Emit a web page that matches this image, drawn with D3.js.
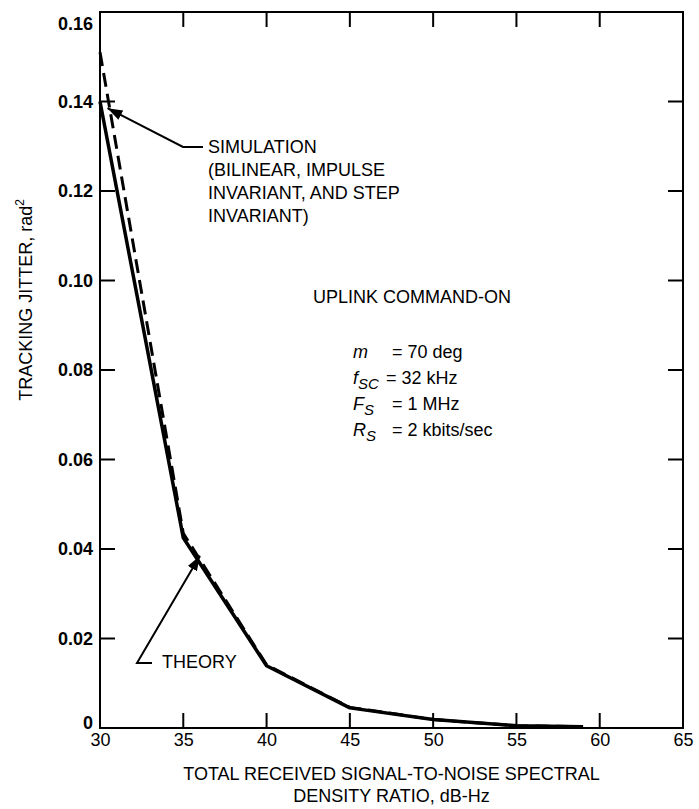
<!DOCTYPE html>
<html>
<head>
<meta charset="utf-8">
<script src="https://cdn.jsdelivr.net/npm/d3@7"></script>
<style>
  body { margin: 0; background: #fff; }
  svg { font-family: "Liberation Sans", Arial, Helvetica, sans-serif; }
</style>
</head>
<body>
<div id="chart"></div>
<script>
// values
const snrTheory = [30, 35, 40, 45, 50, 55, 59];
const jitterTheory = [0.140, 0.0425, 0.0139, 0.0045, 0.0019, 0.0005, 0.0003];
const snrSim = [30, 35, 40, 45, 50, 55, 59];
const jitterSim = [0.151, 0.0435, 0.0141, 0.0046, 0.0019, 0.0005, 0.0003];
const xTicks = [30, 35, 40, 45, 50, 55, 60, 65];
const yTicks = [0, 0.02, 0.04, 0.06, 0.08, 0.10, 0.12, 0.14, 0.16];
const simNote = ["SIMULATION", "(BILINEAR, IMPULSE", "INVARIANT, AND STEP", "INVARIANT)"];

const width = 699, height = 809;
const margin = { top: 12, right: 16, bottom: 81, left: 100 };

const svg = d3.select('#chart')
  .append('svg')
  .attr('width', width)
  .attr('height', height);

const x = d3.scaleLinear().domain([30, 65]).range([margin.left, width - margin.right]);
const y = d3.scaleLinear().domain([0, 0.16]).range([height - margin.bottom, margin.top]);

// frame
svg.append('rect')
  .attr('x', x(30)).attr('y', y(0.16))
  .attr('width', x(65) - x(30)).attr('height', y(0) - y(0.16))
  .attr('fill', 'none').attr('stroke', '#000').attr('stroke-width', 2);

const inner = xTicks.filter(d => d > 30 && d < 65);
const innerY = yTicks.filter(d => d > 0 && d < 0.16);

// bottom axis: labels + inward ticks
const xAxis = svg.append('g')
  .attr('transform', `translate(0,${y(0)})`)
  .call(d3.axisBottom(x).tickValues(xTicks).tickSize(0).tickPadding(5).tickFormat(d3.format('d')));
xAxis.select('.domain').remove();
xAxis.selectAll('text').attr('font-size', 18).attr('font-family', 'Liberation Sans, Arial, sans-serif').attr('fill', '#000');

svg.append('g').selectAll('line').data(inner).join('line')
  .attr('x1', d => x(d)).attr('x2', d => x(d))
  .attr('y1', y(0)).attr('y2', y(0) - 15)
  .attr('stroke', '#000').attr('stroke-width', 2);
svg.append('g').selectAll('line').data(inner).join('line')
  .attr('x1', d => x(d)).attr('x2', d => x(d))
  .attr('y1', y(0.16)).attr('y2', y(0.16) + 15)
  .attr('stroke', '#000').attr('stroke-width', 2);

// left axis
const yAxis = svg.append('g')
  .attr('transform', `translate(${x(30)},0)`)
  .call(d3.axisLeft(y).tickValues(yTicks).tickSize(0).tickPadding(7)
    .tickFormat(d => d === 0 ? '0' : d3.format('.2f')(d)));
yAxis.select('.domain').remove();
yAxis.selectAll('text').attr('font-size', 18).attr('font-weight', 'bold')
  .attr('font-family', 'Liberation Sans, Arial, sans-serif').attr('fill', '#000')
  .attr('dy', d => d === 0.16 ? '0.95em' : d === 0 ? '0' : '0.32em');

svg.append('g').selectAll('line').data(innerY).join('line')
  .attr('x1', x(30)).attr('x2', x(30) + 15)
  .attr('y1', d => y(d)).attr('y2', d => y(d))
  .attr('stroke', '#000').attr('stroke-width', 2);
svg.append('g').selectAll('line').data(innerY).join('line')
  .attr('x1', x(65)).attr('x2', x(65) - 15)
  .attr('y1', d => y(d)).attr('y2', d => y(d))
  .attr('stroke', '#000').attr('stroke-width', 2);

// axis titles
svg.append('text')
  .attr('x', (x(30) + x(65)) / 2).attr('y', 780)
  .attr('text-anchor', 'middle').attr('font-size', 18)
  .text('TOTAL RECEIVED SIGNAL-TO-NOISE SPECTRAL');
svg.append('text')
  .attr('x', (x(30) + x(65)) / 2).attr('y', 802)
  .attr('text-anchor', 'middle').attr('font-size', 18)
  .text('DENSITY RATIO, dB-Hz');

const yTitle = svg.append('text')
  .attr('transform', `translate(32,300) rotate(-90)`)
  .attr('text-anchor', 'middle').attr('font-size', 18);
yTitle.append('tspan').text('TRACKING JITTER, rad');
yTitle.append('tspan').attr('dy', -8).attr('font-size', 12).text('2');

// curves
const line = d3.line().x(d => x(d[0])).y(d => y(d[1]));
svg.append('path')
  .datum(d3.zip(snrTheory, jitterTheory))
  .attr('d', line)
  .attr('fill', 'none').attr('stroke', '#000').attr('stroke-width', 3.5)
  .attr('stroke-linejoin', 'round');
svg.append('path')
  .datum(d3.zip(snrSim, jitterSim))
  .attr('d', line)
  .attr('fill', 'none').attr('stroke', '#000').attr('stroke-width', 3)
  .attr('stroke-dasharray', '14,7');

// arrows
svg.append('defs').append('marker')
  .attr('id', 'arrow').attr('viewBox', '0 0 10 10')
  .attr('refX', 10).attr('refY', 5)
  .attr('markerWidth', 15).attr('markerHeight', 15)
  .attr('markerUnits', 'userSpaceOnUse')
  .attr('orient', 'auto')
  .append('path').attr('d', 'M0,1.5 L10,5 L0,8.5 Z').attr('fill', '#000');

svg.append('path')
  .attr('d', `M203,147 L183,147 L${x(30.45)},${y(0.1385)}`)
  .attr('fill', 'none').attr('stroke', '#000').attr('stroke-width', 2)
  .attr('marker-end', 'url(#arrow)');

svg.append('path')
  .attr('d', `M152,663 L137,663 L${x(36.0)},${y(0.0385)}`)
  .attr('fill', 'none').attr('stroke', '#000').attr('stroke-width', 2)
  .attr('marker-end', 'url(#arrow)');

// annotations
svg.append('g').selectAll('text').data(simNote).join('text')
  .attr('x', 208).attr('y', (d, i) => 153 + i * 23)
  .attr('font-size', 18).text(d => d);

svg.append('text').attr('x', 162).attr('y', 668).attr('font-size', 18).text('THEORY');

svg.append('text').attr('x', 313).attr('y', 303).attr('font-size', 18).text('UPLINK COMMAND-ON');

const params = [
  { sym: 'm', sub: '', val: '= 70 deg', vx: 392 },
  { sym: 'f', sub: 'SC', val: '= 32 kHz', vx: 386 },
  { sym: 'F', sub: 'S', val: '= 1 MHz', vx: 392 },
  { sym: 'R', sub: 'S', val: '= 2 kbits/sec', vx: 392 }
];
params.forEach((p, i) => {
  const by = 358 + i * 26;
  const t = svg.append('text').attr('x', 353).attr('y', by).attr('font-size', 18).attr('font-style', 'italic');
  t.append('tspan').text(p.sym);
  if (p.sub) t.append('tspan').attr('dy', 5).attr('font-size', 15).text(p.sub);
  svg.append('text').attr('x', p.vx).attr('y', by).attr('font-size', 18).text(p.val);
});
</script>
</body>
</html>
